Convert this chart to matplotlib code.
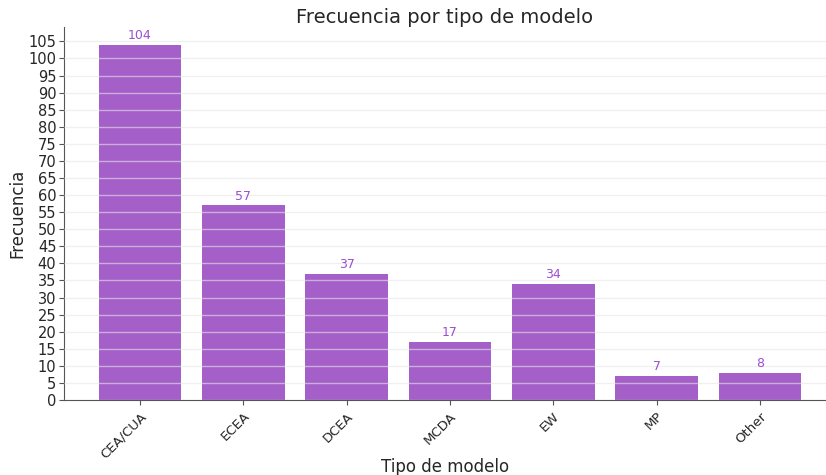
import matplotlib
matplotlib.use("Agg")
import matplotlib.pyplot as plt
import numpy as np

categories = ["CEA/CUA", "ECEA", "DCEA", "MCDA", "EW", "MP", "Other"]
values = [104, 57, 37, 17, 34, 7, 8]

plt.rcParams['text.color'] = '#262626'
plt.rcParams['xtick.color'] = '#555555'
plt.rcParams['ytick.color'] = '#555555'
plt.rcParams['xtick.labelcolor'] = '#262626'
plt.rcParams['ytick.labelcolor'] = '#262626'
plt.rcParams['axes.labelcolor'] = '#262626'

fig = plt.figure(figsize=(8.26, 4.75), dpi=100)
ax = fig.add_axes([64/826, 75/475, 762/826, 373/475])

x = np.arange(len(categories))
bars = ax.bar(x, values, width=0.8, color="#a45fc9", zorder=2)
ax.bar_label(bars, labels=[str(v) for v in values], color="#9b4fd0", fontsize=9, padding=2)

ax.set_yticks(np.arange(0, 106, 5))
ax.set_ylim(0, 109.2)
ax.set_xlim(-0.735, 6.64)
ax.set_xticks(x)
ax.set_xticklabels(categories, rotation=45, fontsize=9.5, ha='right', rotation_mode='anchor')
ax.tick_params(axis='y', labelsize=10.5, pad=2)
ax.yaxis.grid(True, color="#e6e6e6", linewidth=1, zorder=3, alpha=0.6)
ax.set_axisbelow(False)
for s in ["top", "right"]:
    ax.spines[s].set_visible(False)
for s in ["left", "bottom"]:
    ax.spines[s].set_color("#555555")

ax.set_title("Frecuencia por tipo de modelo", fontsize=14, pad=3)
ax.set_xlabel("Tipo de modelo", fontsize=12)
ax.xaxis.set_label_coords(0.5, -0.155)
ax.set_ylabel("Frecuencia", fontsize=12)
ax.yaxis.set_label_coords(-0.05, 0.5)

fig.savefig("out.png", dpi=100)
